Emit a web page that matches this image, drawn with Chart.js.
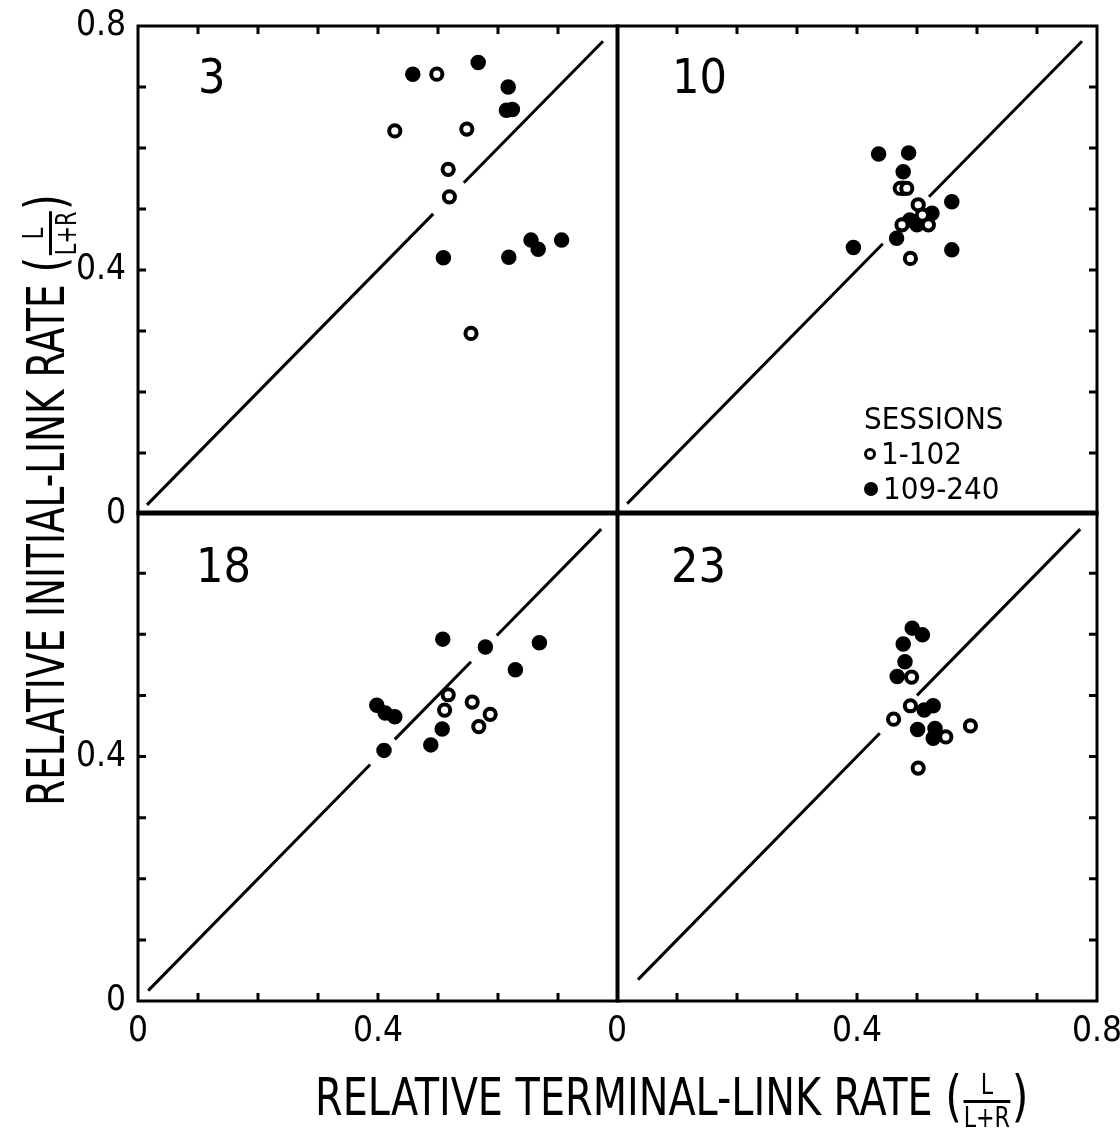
<!DOCTYPE html>
<html>
<head>
<meta charset="utf-8">
<script src="https://cdn.jsdelivr.net/npm/chart.js@4.4.1/dist/chart.umd.min.js"></script>
<style>
  html, body { margin: 0; padding: 0; background: #fff; }
  body { width: 1120px; height: 1129px; position: relative; overflow: hidden; }
  canvas.panel { position: absolute; left: 0; top: 0; }
  .txt { position: absolute; font-family: 'DejaVu Sans Condensed', 'Liberation Sans Narrow', sans-serif; color: #000; white-space: nowrap; z-index: 5; }
  .axtitle { line-height: 60px; height: 60px; font-size: 52px; }
  #xtitle { left: 315px; top: 1066px; transform-origin: 0 50%; transform: scaleX(0.85); }
  #ytitle { width: 800px; text-align: center; left: -355px; top: 470px; transform: rotate(-90deg) scaleX(0.8); }
  .frac { display: inline-block; vertical-align: middle; font-size: 29px; line-height: 0.95; text-align: center; margin: 0 2px; }
  .num { display: block; border-bottom: 3px solid #000; padding: 0 4px 1px; }
  .den { display: block; padding-top: 1px; }
  .paren { font-size: 56px; }
  .pnum { font-size: 48px; line-height: 50px; }
  .legend { font-size: 31px; line-height: 35px; left: 864px; top: 401px; }
  .mk { display: inline-block; box-sizing: border-box; border-radius: 50%; vertical-align: middle; margin-right: 5px; position: relative; top: -2px; }
  .mk.open { width: 12px; height: 12px; border: 3px solid #000; background: #fff; }
  .mk.fill { width: 14px; height: 14px; background: #000; }
</style>
</head>
<body>
<canvas id="cTL" class="panel" width="1120" height="1129"></canvas>
<canvas id="cTR" class="panel" width="1120" height="1129"></canvas>
<canvas id="cBL" class="panel" width="1120" height="1129"></canvas>
<canvas id="cBR" class="panel" width="1120" height="1129"></canvas>

<div id="ytitle" class="txt axtitle">RELATIVE INITIAL-LINK RATE <span class="paren">(</span><span class="frac"><span class="num">L</span><span class="den">L+R</span></span><span class="paren">)</span></div>
<div id="xtitle" class="txt axtitle">RELATIVE TERMINAL-LINK RATE <span class="paren">(</span><span class="frac"><span class="num">L</span><span class="den">L+R</span></span><span class="paren">)</span></div>

<div class="txt pnum" style="left:198px; top:51px;">3</div>
<div class="txt pnum" style="left:672px; top:51px;">10</div>
<div class="txt pnum" style="left:196px; top:540px;">18</div>
<div class="txt pnum" style="left:671px; top:540px;">23</div>

<div class="txt legend">SESSIONS<br><span class="mk open"></span>1-102<br><span class="mk fill"></span>109-240</div>

<script>
// ---------- data (relative rates, L/(L+R)) ----------
const axisTickLabels = [0, 0.4, 0.8];
const minorTicks = [0.1, 0.2, 0.3, 0.4, 0.5, 0.6, 0.7];
const seriesNames = ['1-102', '109-240'];

// Pigeon 3
const p3Early = [[0.428,0.628],[0.498,0.721],[0.548,0.631],[0.517,0.565],[0.519,0.520],[0.555,0.296]];
const p3Late  = [[0.458,0.721],[0.567,0.740],[0.617,0.700],[0.614,0.662],[0.624,0.663],[0.509,0.420],[0.618,0.421],[0.655,0.449],[0.667,0.434],[0.706,0.449]];
const p3Diag  = [[0.015,0.492],[0.543,0.775]];

// Pigeon 10
const p10Early = [[0.472,0.534],[0.483,0.534],[0.502,0.507],[0.509,0.490],[0.519,0.474],[0.475,0.474],[0.489,0.419]];
const p10Late  = [[0.436,0.590],[0.486,0.592],[0.477,0.561],[0.477,0.534],[0.525,0.493],[0.488,0.482],[0.500,0.474],[0.466,0.452],[0.558,0.512],[0.558,0.433],[0.394,0.437]];
const p10Diag  = [[0.017,0.443],[0.520,0.775]];

// Pigeon 18
const p18Early = [[0.517,0.501],[0.511,0.476],[0.557,0.489],[0.587,0.469],[0.568,0.449]];
const p18Late  = [[0.508,0.592],[0.579,0.579],[0.669,0.586],[0.629,0.542],[0.398,0.484],[0.412,0.471],[0.428,0.465],[0.507,0.445],[0.488,0.419],[0.410,0.410]];
const p18Diag  = [[0.017,0.387],[0.428,0.555],[0.598,0.772]];

// Pigeon 23
const p23Early = [[0.491,0.530],[0.489,0.483],[0.461,0.461],[0.548,0.432],[0.589,0.450],[0.502,0.381]];
const p23Late  = [[0.492,0.610],[0.509,0.599],[0.477,0.584],[0.480,0.555],[0.467,0.531],[0.527,0.483],[0.512,0.476],[0.501,0.444],[0.530,0.446],[0.527,0.430]];
const p23Diag  = [[0.035,0.438],[0.500,0.772]];

// ---------- helpers ----------
const FONT = "'DejaVu Sans Condensed', 'Liberation Sans Narrow', sans-serif";
const W = 1120, H = 1129;
const YAXIS_W = 100, XAXIS_H = 50;
const toPts = arr => arr.map(([x, y]) => ({x, y}));
const fmt = v => (Math.abs(v) < 1e-9 ? '0' : v.toFixed(1));

const framePlugin = {
  id: 'frame',
  beforeDatasetsDraw(chart, args, opts) {
    const {ctx, chartArea: a, scales} = chart;
    const xs = scales.x, ys = scales.y;
    ctx.save();
    ctx.strokeStyle = '#000';
    ctx.lineWidth = 3;
    ctx.strokeRect(a.left, a.top, a.right - a.left, a.bottom - a.top);
    const L = 8;
    ctx.beginPath();
    minorTicks.forEach(v => {
      const px = xs.getPixelForValue(v), py = ys.getPixelForValue(v);
      if (opts.sides.includes('top'))    { ctx.moveTo(px, a.top);    ctx.lineTo(px, a.top + L); }
      if (opts.sides.includes('bottom')) { ctx.moveTo(px, a.bottom); ctx.lineTo(px, a.bottom - L); }
      if (opts.sides.includes('left'))   { ctx.moveTo(a.left, py);   ctx.lineTo(a.left + L, py); }
      if (opts.sides.includes('right'))  { ctx.moveTo(a.right, py);  ctx.lineTo(a.right - L, py); }
    });
    ctx.stroke();
    ctx.restore();
  }
};

function makeDatasets(early, late, diag) {
  const ds = [
    { label: seriesNames[0], data: toPts(early), pointRadius: 5.6, pointHoverRadius: 5.6,
      pointBackgroundColor: '#fff', pointBorderColor: '#000', pointBorderWidth: 4, showLine: false },
    { label: seriesNames[1], data: toPts(late), pointRadius: 7, pointHoverRadius: 7,
      pointBackgroundColor: '#000', pointBorderColor: '#000', pointBorderWidth: 1.5, showLine: false }
  ];
  diag.forEach(([a, b]) => {
    ds.push({ label: 'equality', data: [{x: a, y: a}, {x: b, y: b}], showLine: true,
      borderColor: '#000', borderWidth: 3, pointRadius: 0, pointHoverRadius: 0, fill: false });
  });
  return ds;
}

function makeChart(id, cfg) {
  const xDisp = !!cfg.xLabels, yDisp = !!cfg.yLabels;
  const tickFont = { family: FONT, size: 35 };
  return new Chart(document.getElementById(id), {
    type: 'scatter',
    data: { datasets: makeDatasets(cfg.early, cfg.late, cfg.diag) },
    options: {
      responsive: false,
      animation: false,
      devicePixelRatio: 1,
      events: [],
      layout: { padding: cfg.padding },
      plugins: { legend: { display: false }, tooltip: { enabled: false }, frame: { sides: cfg.sides } },
      scales: {
        x: {
          type: 'linear', min: 0, max: 0.8, display: xDisp, position: 'bottom',
          grid: { display: false, drawTicks: false }, border: { display: false },
          ticks: { stepSize: 0.4, padding: 10, color: '#000', font: tickFont, maxRotation: 0,
                   callback: v => (cfg.xLabels && cfg.xLabels.some(t => Math.abs(t - v) < 1e-6)) ? fmt(v) : '' },
          afterFit: s => { if (xDisp) s.height = XAXIS_H; s.paddingLeft = 0; s.paddingRight = 0; }
        },
        y: {
          type: 'linear', min: 0, max: 0.8, display: yDisp, position: 'left',
          grid: { display: false, drawTicks: false }, border: { display: false },
          ticks: { stepSize: 0.4, padding: 12, color: '#000', font: tickFont,
                   callback: v => (cfg.yLabels && cfg.yLabels.some(t => Math.abs(t - v) < 1e-6)) ? fmt(v) : '' },
          afterFit: s => { if (yDisp) s.width = YAXIS_W; s.paddingTop = 0; s.paddingBottom = 0; }
        }
      }
    },
    plugins: [framePlugin]
  });
}

// panel frames (page pixels): left col 138..618, right col 617..1097; top row 26..514, bottom row 512..1001
makeChart('cTL', { early: p3Early, late: p3Late, diag: p3Diag, sides: ['top', 'left'],
  yLabels: axisTickLabels,
  padding: { left: 138 - YAXIS_W, top: 26, right: W - 618, bottom: H - 514 } });
makeChart('cTR', { early: p10Early, late: p10Late, diag: p10Diag, sides: ['top', 'right'],
  padding: { left: 617, top: 26, right: W - 1097, bottom: H - 514 } });
makeChart('cBL', { early: p18Early, late: p18Late, diag: p18Diag, sides: ['left', 'bottom'],
  yLabels: axisTickLabels.slice(0, 2), xLabels: axisTickLabels.slice(0, 2),
  padding: { left: 138 - YAXIS_W, top: 512, right: W - 618, bottom: H - 1001 - XAXIS_H } });
makeChart('cBR', { early: p23Early, late: p23Late, diag: p23Diag, sides: ['right', 'bottom'],
  xLabels: axisTickLabels,
  padding: { left: 617, top: 512, right: W - 1097, bottom: H - 1001 - XAXIS_H } });
</script>
</body>
</html>
